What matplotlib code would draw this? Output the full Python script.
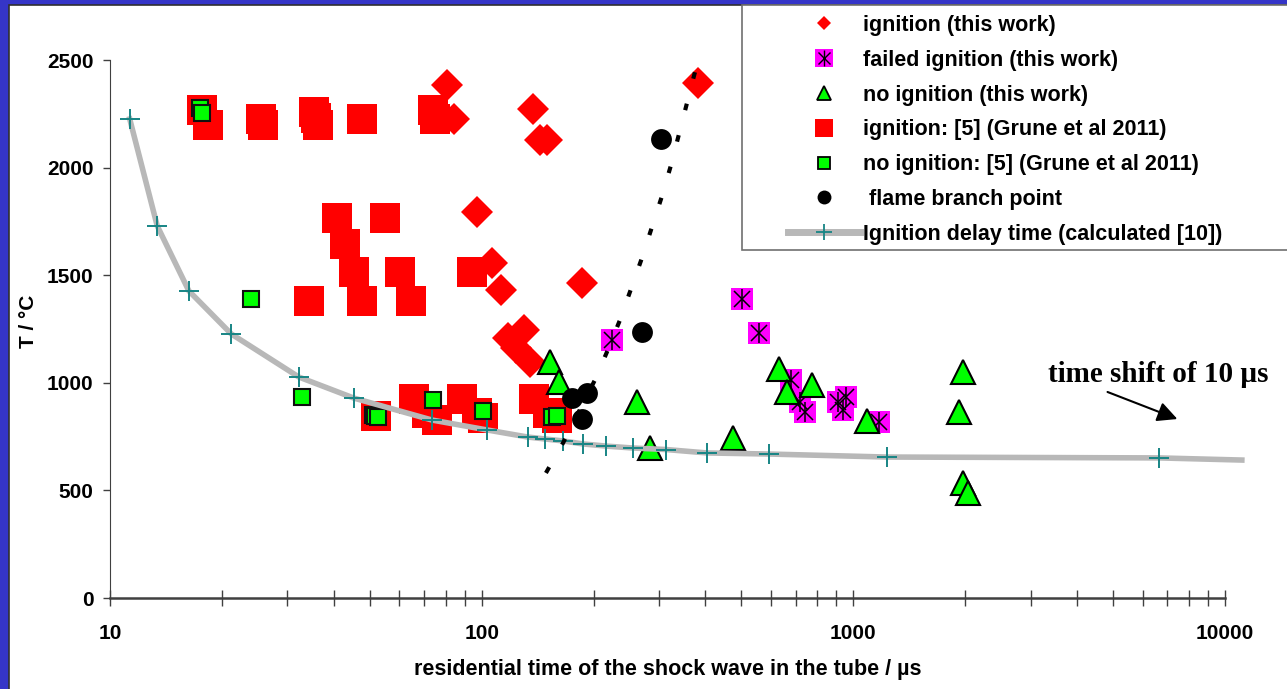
import numpy as np
import matplotlib
matplotlib.use("Agg")
import matplotlib.pyplot as plt
from matplotlib.lines import Line2D
from matplotlib.patches import Rectangle
from matplotlib.ticker import LogLocator, FixedLocator, NullFormatter

plt.rcParams['font.family'] = ['Liberation Sans', 'DejaVu Sans']
plt.rcParams['font.weight'] = 'bold'

# ignition (this work)
ign_x = [80.7, 84.2, 137.4, 143.5, 149.9, 97.1, 106.6, 112.7, 186.2, 381.9,
         117.7, 130.0, 123.7, 134.9]
ign_t = [2384, 2226, 2272, 2128, 2128, 1794, 1557, 1431, 1464, 2393,
         1208, 1245, 1162, 1097]

# failed ignition (this work)
fail_x = [501, 557, 224, 680, 718, 741, 909, 955, 938, 1172]
fail_t = [1389, 1231, 1199, 1013, 911, 864, 911, 934, 874, 818]

# no ignition (this work)
noign_x = [152.7, 161.4, 261.7, 283.7, 474.5, 630.7, 662.8, 773.8, 1088,
           1972, 1924, 1972, 2034]
noign_t = [1097, 1004, 911, 697, 743, 1064, 957, 990, 822,
           1050, 864, 534, 488]

# ignition: [5] (Grune et al 2011)
grune_x = [17.7, 18.4, 25.5, 25.8, 35.4, 35.8, 36.3, 47.6, 74.0, 74.9,
           40.8, 54.9, 42.9, 45.3, 60.3, 94.2, 34.3, 47.6, 64.5,
           51.9, 65.7, 71.3, 75.8, 88.5, 97.1, 100.8, 138.2, 150.8, 159.5]
grune_t = [2268, 2198, 2226, 2198, 2258, 2230, 2198, 2226, 2268, 2226,
           1766, 1766, 1645, 1515, 1515, 1515, 1380, 1380, 1380,
           846, 925, 860, 827, 925, 860, 836, 925, 860, 836]

# no ignition: [5] (Grune et al 2011)
grune_no_x = [17.5, 17.7, 23.9, 32.9, 51.0, 51.6, 52.6, 74.0, 100.8, 154.6, 159.5]
grune_no_t = [2277, 2254, 1389, 934, 850, 846, 841, 920, 869, 841, 846]

# flame branch point
branch_x = [303.7, 269.9, 192, 175, 186]
branch_t = [2133, 1236, 953, 929, 832]

# trend through branch points (dashed)
trend_x = [148.9, 165.5, 201.7, 217.3, 235.6, 252.2, 269.9, 287.2, 305.6,
           323.2, 339.6, 356.8, 374.9]
trend_t = [581, 720, 1013, 1143, 1292, 1436, 1580, 1724, 1868,
           2012, 2156, 2300, 2444]

# ignition delay time (calculated [10])
delay_x = [11.3, 13.4, 16.3, 21.2, 32.2, 45.3, 73.5, 103.3, 133, 148, 165.5,
           187, 216, 255, 313, 404, 593, 1231, 6640, 11100]
delay_t = [2226, 1729, 1427, 1227, 1027, 929, 827, 781, 748, 739, 730,
           716, 706, 697, 690, 674, 669, 655, 651, 641]

fig = plt.figure(figsize=(12.87, 6.89), dpi=100, facecolor='#3535c8')
W, H = 1287.0, 689.0
fig.patches.append(Rectangle((9 / W, -0.1), 1.2, 1.1 - 5 / H,
                             transform=fig.transFigure, facecolor='white',
                             edgecolor='#303030', lw=1.2, zorder=-2))

ax = fig.add_axes([110 / W, 1 - 598 / H, 1115 / W, 538 / H])
ax.set_facecolor('none')
ax.set_xscale('log')
ax.set_xlim(10, 10000)
ax.set_ylim(0, 2500)

red = '#ff0000'
green = '#00ff00'
mag = '#ff00ff'
teal = '#178585'

ax.plot(grune_x, grune_t, 's', ms=21.5, color=red, mew=0, zorder=2)
ax.plot(grune_no_x, grune_no_t, 's', ms=11.5, mfc=green, mec='#101010', mew=1.5, zorder=3)
ax.plot(ign_x, ign_t, 'D', ms=16.8, color=red, mew=0, zorder=3)
ax.plot(fail_x, fail_t, 's', ms=16.5, color=mag, mew=0, zorder=3)
ax.plot(fail_x, fail_t, 'x', ms=11.5, color='k', mew=1.1, zorder=3)
ax.plot(fail_x, fail_t, '|', ms=14.5, color='k', mew=1.1, zorder=3)
ax.plot(noign_x, noign_t, '^', ms=17.5, mfc=green, mec='k', mew=1.5, zorder=4)
ax.plot(branch_x, branch_t, 'o', ms=15, color='k', mew=0, zorder=5)

ax.plot(delay_x, delay_t, '-', color='#b8b8b8', lw=4, zorder=4, clip_on=False)
ax.plot(delay_x[:-1], delay_t[:-1], '+', color=teal, ms=15, mew=1.4, zorder=6)

ax.plot(trend_x, trend_t, color='k', lw=3, dashes=(1.6, 6.2), zorder=7)

ax.text(3339, 1004, 'time shift of 10 \u00b5s', family='Liberation Serif',
        weight='bold', size=21, va='baseline', ha='left', clip_on=False)
ax.annotate('', xy=(7565, 827), xytext=(4753, 962),
            arrowprops=dict(arrowstyle='-|>,head_length=0.6,head_width=0.3',
                            color='k', lw=1.5, mutation_scale=20))

for side in ['top', 'right']:
    ax.spines[side].set_visible(False)
ax.spines['left'].set_color('#404040')
ax.spines['bottom'].set_color('#404040')
ax.spines['bottom'].set_linewidth(1.8)

ax.set_yticks([0, 500, 1000, 1500, 2000, 2500])
ax.xaxis.set_major_locator(FixedLocator([10, 100, 1000, 10000]))
ax.xaxis.set_major_formatter(plt.FuncFormatter(lambda v, p: '%d' % v))
ax.xaxis.set_minor_locator(LogLocator(base=10, subs=np.arange(2, 10)))
ax.xaxis.set_minor_formatter(NullFormatter())
ax.tick_params(axis='y', direction='out', length=5, width=1, color='#404040',
               labelsize=15, pad=7)
ax.tick_params(axis='x', which='both', direction='inout', length=11, width=1,
               color='#404040', labelsize=15, pad=13)

ax.set_xlabel('residential time of the shock wave in the tube / \u00b5s',
              fontsize=15.5, weight='bold')
ax.xaxis.set_label_coords(0.5, (598 - 670) / 538.0)
ax.xaxis.label.set_va('center')
ax.set_ylabel('T / \u00b0C', fontsize=15, weight='bold')
ax.yaxis.set_label_coords((28 - 110) / 1115.0, (598 - 321) / 538.0)
ax.yaxis.label.set_va('center')

# legend box (open at top and right, under the blue frame)
fig.patches.append(Rectangle((742 / W, 1 - 250 / H), 0.5, (250 - 5) / H,
                             transform=fig.transFigure, facecolor='white',
                             edgecolor='#707070', lw=1.2, zorder=1))

handles = [
    Line2D([], [], ls='', marker='D', ms=7.6, color=red, mew=0),
    (Line2D([], [], ls='', marker='s', ms=13, color=mag, mew=0),
     Line2D([], [], ls='', marker='x', ms=9, color='k', mew=1),
     Line2D([], [], ls='', marker='|', ms=11, color='k', mew=1)),
    Line2D([], [], ls='', marker='^', ms=10.6, mfc=green, mec='k', mew=1.3),
    Line2D([], [], ls='', marker='s', ms=13, color=red, mew=0),
    Line2D([], [], ls='', marker='s', ms=9, mfc=green, mec='k', mew=1.3),
    Line2D([], [], ls='', marker='o', ms=10, color='k', mew=0),
    (Line2D([], [], color='#b8b8b8', lw=5),
     Line2D([], [], ls='', marker='+', ms=11, color=teal, mew=1.3)),
]
labels = ['ignition (this work)', 'failed ignition (this work)',
          'no ignition (this work)', 'ignition: [5] (Grune et al 2011)',
          'no ignition: [5] (Grune et al 2011)', ' flame branch point',
          'Ignition delay time (calculated [10])']
leg = fig.legend(handles, labels, loc='upper left',
                 bbox_to_anchor=(788 / W, 1 - 15 / H), frameon=False,
                 fontsize=15.5, handlelength=3.34, handletextpad=0.14,
                 borderpad=0, borderaxespad=0, labelspacing=0.64)
leg.set_zorder(10)

fig.savefig('out.png', dpi=100, facecolor=fig.get_facecolor())
